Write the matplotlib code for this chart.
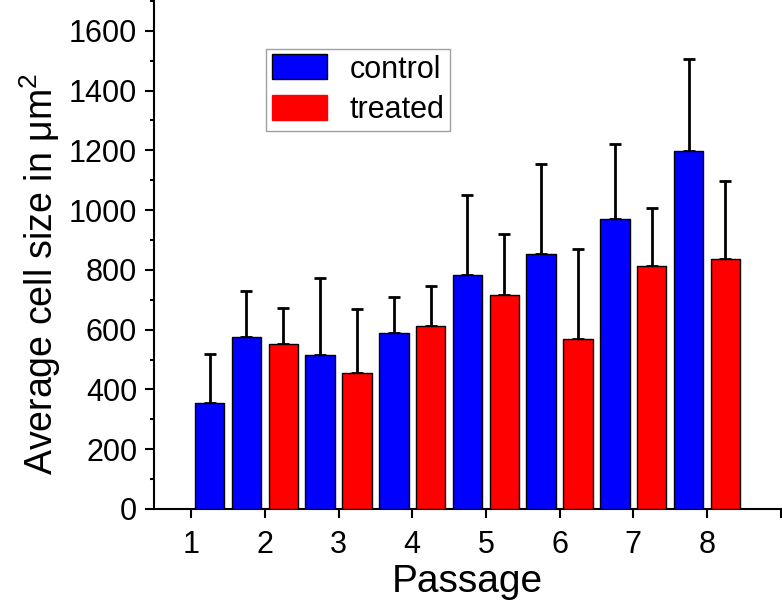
import matplotlib
matplotlib.use("Agg")
import matplotlib.pyplot as plt
from matplotlib.patches import Patch
from matplotlib.ticker import MultipleLocator

plt.rcParams['font.family'] = ['Liberation Sans', 'DejaVu Sans']
plt.rcParams['mathtext.fontset'] = 'custom'
plt.rcParams['mathtext.rm'] = 'Liberation Sans'
plt.rcParams['mathtext.it'] = 'Liberation Sans:italic'

# Data
passages = [1, 2, 3, 4, 5, 6, 7, 8]
control_x = [1.25, 1.75, 2.75, 3.75, 4.75, 5.75, 6.75, 7.75]
control_mean = [354, 576, 514, 590, 783, 853, 970, 1199]
control_err = [166, 152, 258, 118, 267, 301, 250, 305]
treated_x = [2.25, 3.25, 4.25, 5.25, 6.25, 7.25, 8.25]
treated_mean = [552, 454, 613, 716, 569, 814, 836]
treated_err = [119, 216, 132, 203, 300, 194, 262]

fig = plt.figure(figsize=(7.82, 6.10), dpi=100)
ax = fig.add_axes([0.1973, 0.1656, 0.8010, 0.8329])

bw = 0.4
ax.bar(control_x, control_mean, width=bw, color='#0000FF', edgecolor='black', linewidth=1.0, zorder=3)
ax.bar(treated_x, treated_mean, width=bw, color='#FF0000', edgecolor='black', linewidth=1.0, zorder=3)
ax.errorbar(control_x, control_mean, yerr=[[0]*len(control_err), control_err], fmt='none',
            ecolor='black', elinewidth=2.0, capsize=4, capthick=2.0, zorder=2)
ax.errorbar(treated_x, treated_mean, yerr=[[0]*len(treated_err), treated_err], fmt='none',
            ecolor='black', elinewidth=2.0, capsize=4, capthick=2.0, zorder=2)

ax.set_xlim(0.5, 9.0)
ax.set_ylim(0, 1700)
ax.set_xticks(passages + [9])
ax.set_xticklabels([str(p) for p in passages] + [''])
ax.yaxis.set_major_locator(MultipleLocator(200))
ax.yaxis.set_minor_locator(MultipleLocator(100))

for s in ['top', 'right']:
    ax.spines[s].set_visible(False)
for s in ['left', 'bottom']:
    ax.spines[s].set_linewidth(1.5)

ax.tick_params(axis='both', which='major', direction='out', length=6.3, width=1.5,
               labelsize=22, pad=6)
ax.tick_params(axis='x', which='major', pad=9)
ax.tick_params(axis='y', which='minor', direction='out', length=3.2, width=1.5)

ax.set_xlabel('Passage', fontsize=28, labelpad=3)
ax.set_ylabel('Average cell size in μm$^2$', fontsize=27, labelpad=4, y=0.462)

handles = [Patch(facecolor='#0000FF', edgecolor='black', linewidth=1.0),
           Patch(facecolor='#FF0000', edgecolor='#FF0000', linewidth=1.0)]
leg = fig.legend(handles, ['control', 'treated'], loc='upper left',
                 bbox_to_anchor=(266/782, 1 - 49/610), fontsize=22,
                 frameon=True, fancybox=False, edgecolor='#888888',
                 handlelength=1.8, handleheight=0.88, handletextpad=0.75,
                 labelspacing=0.35, borderpad=0.18, borderaxespad=0)
leg.get_frame().set_linewidth(1.0)

fig.savefig('out.png', dpi=100)
